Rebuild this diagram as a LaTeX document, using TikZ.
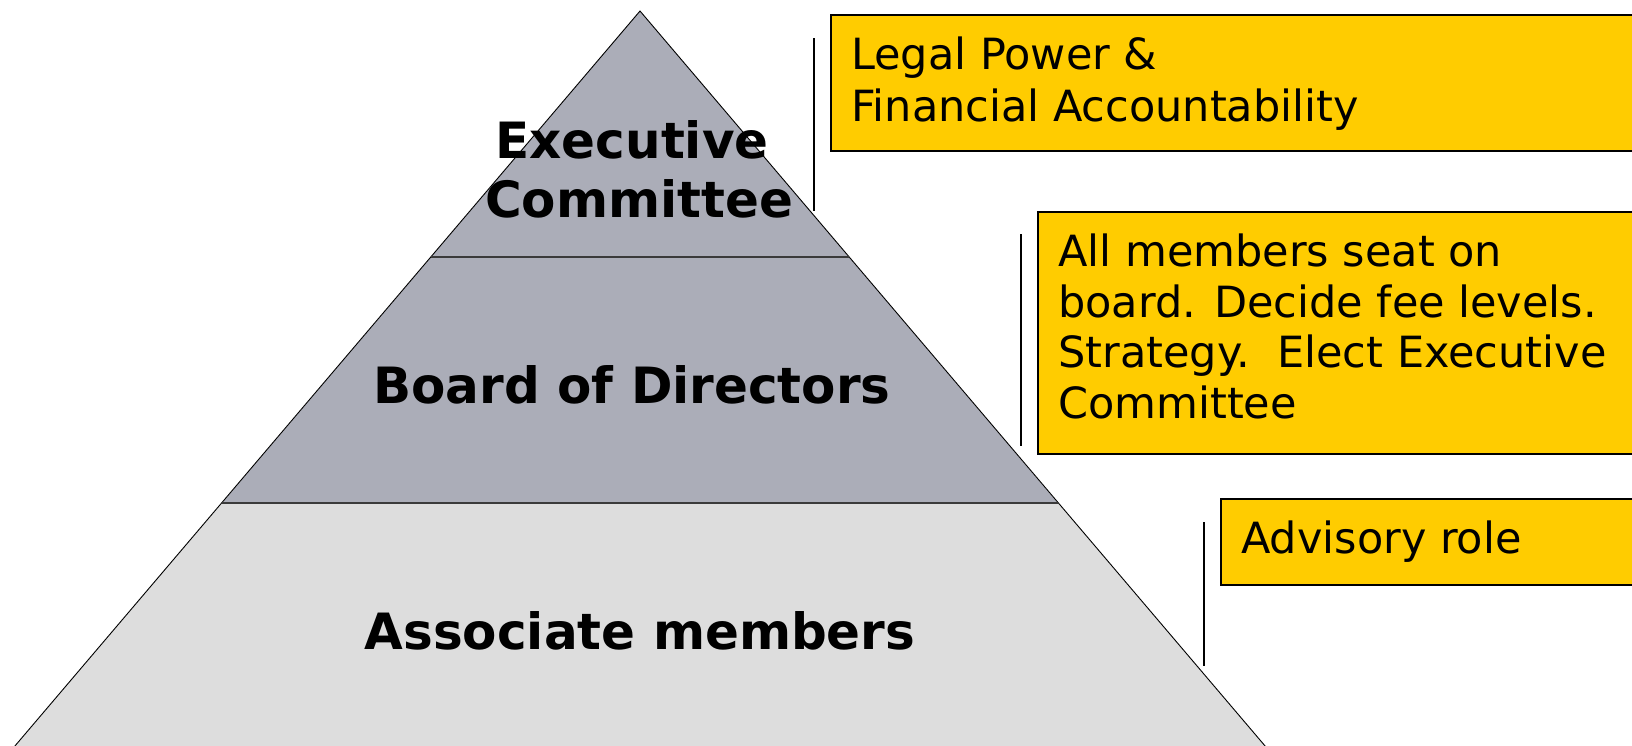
\documentclass[tikz,border=0pt]{standalone}
\usepackage{fontspec}
\setmainfont{DejaVu Sans}
\definecolor{tiergray}{HTML}{ABADB8}
\definecolor{basegray}{HTML}{DDDDDD}
\definecolor{gold}{HTML}{FFCC00}
\definecolor{divline}{HTML}{3A3A3A}
\begin{document}
\begin{tikzpicture}[x=1pt,y=-1pt,
  tiertext/.style={font=\fontsize{50}{59}\selectfont\bfseries, inner sep=0pt, anchor=base},
  boxtext/.style={font=\fontsize{43}{52}\selectfont, inner sep=0pt, anchor=base west},
  goldbox/.style={draw=black, line width=2pt, fill=gold, anchor=north west, inner sep=0pt},
  sideline/.style={draw=black, line width=2pt},
  outline/.style={draw=black, line width=0.9pt},
  divider/.style={draw=divline, line width=2.5pt}]
\useasboundingbox (0,0) rectangle (1632,745);
\clip (0,0) rectangle (1632,745);
% pyramid coordinates
\coordinate (apex) at (640,11);
\coordinate (l1) at (431,257);
\coordinate (r1) at (849,257);
\coordinate (l2) at (222,503);
\coordinate (r2) at (1058,503);
\coordinate (l3) at (3,760);
\coordinate (r3) at (1277,760);
% fills
\fill[tiergray] (apex) -- (r1) -- (l1) -- cycle;
\fill[tiergray] (l1) -- (r1) -- (r2) -- (l2) -- cycle;
\fill[basegray] (l2) -- (r2) -- (r3) -- (l3) -- cycle;
% outline and dividers
\draw[outline] (l3) -- (apex) -- (r3);
\draw[divider] (l1) -- (r1);
\draw[divider] (l2) -- (r2);
% tier labels
\node[tiertext] (exec1) at (632,158) {Executive};
\node[tiertext] (exec2) at (639,217) {Committee};
\node[tiertext] (board) at (632,403) {Board of Directors};
\node[tiertext] (assoc) at (640,649) {Associate members};
% side boxes
\node[goldbox, minimum width=820pt, minimum height=136pt] (box1) at (830,14) {};
\node[goldbox, minimum width=610pt, minimum height=242pt] (box2) at (1037,211) {};
\node[goldbox, minimum width=430pt, minimum height=86pt] (box3) at (1220,498) {};
% side lines
\coordinate (s1a) at (814,38);
\coordinate (s1b) at (814,211);
\coordinate (s2a) at (1021,234);
\coordinate (s2b) at (1021,446);
\coordinate (s3a) at (1204,522);
\coordinate (s3b) at (1204,666);
\draw[sideline] (s1a) -- (s1b);
\draw[sideline] (s2a) -- (s2b);
\draw[sideline] (s3a) -- (s3b);
% box texts
\node[boxtext] (t1a) at (851,69) {Legal Power \&};
\node[boxtext] (t1b) at (851,121) {Financial Accountability};
\node[boxtext] (t2a) at (1058,266) {All members seat on};
\node[boxtext] (t2b) at (1058,317) {board. Decide fee levels.};
\node[boxtext] (t2c) at (1058,367) {Strategy.\ \ Elect Executive};
\node[boxtext] (t2d) at (1058,418) {Committee};
\node[boxtext] (t3a) at (1241,553) {Advisory role};
\end{tikzpicture}
\end{document}
